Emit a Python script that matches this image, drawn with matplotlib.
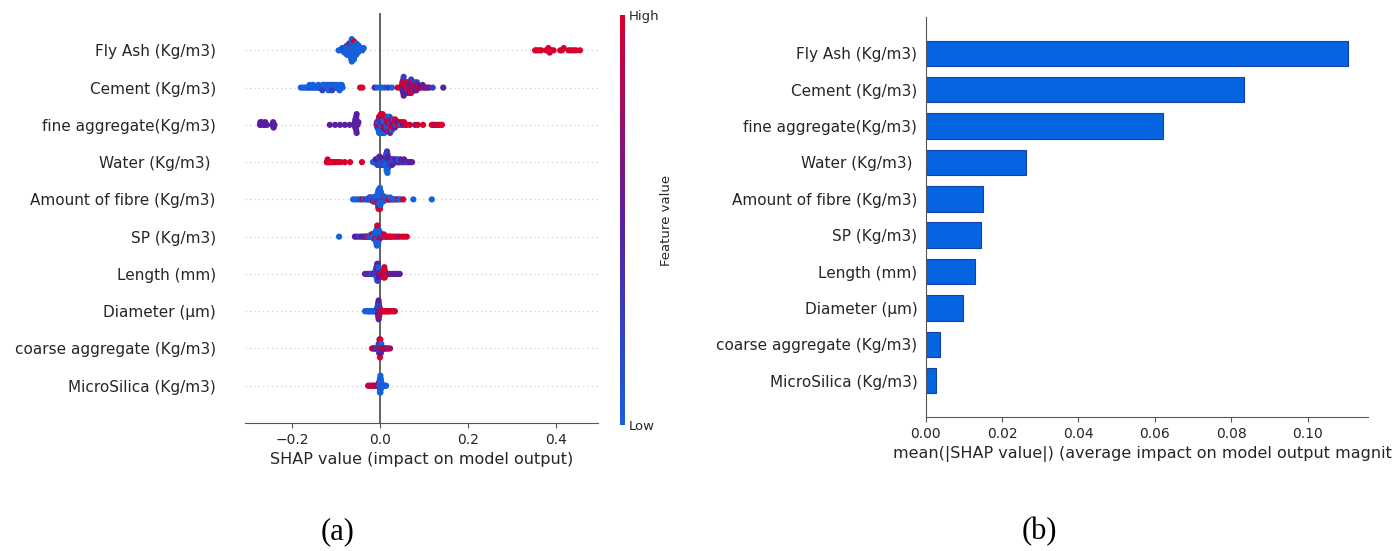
import numpy as np
import matplotlib
matplotlib.use('Agg')
import matplotlib.pyplot as plt
from matplotlib.colors import LinearSegmentedColormap

FEATURES = ['Fly Ash (Kg/m3)', 'Cement (Kg/m3)', 'fine aggregate(Kg/m3)', 'Water (Kg/m3) ',
            'Amount of fibre (Kg/m3)', 'SP (Kg/m3)', 'Length (mm)', 'Diameter (\u00b5m)',
            'coarse aggregate (Kg/m3)', 'MicroSilica (Kg/m3)']

# mean(|SHAP|) per feature, same order as FEATURES
MEAN_ABS_SHAP = [0.1105, 0.0832, 0.0622, 0.0262, 0.0150, 0.0144, 0.0129, 0.0099, 0.0038, 0.0027]

# feature-value level codes -> position on the colour scale
LEVEL_VALUES = [0.0, 0.25, 0.5, 0.75, 1.0]

FLY_ASH_SHAP = [
    -0.094, -0.089, -0.086, -0.084, -0.082, -0.081, -0.079, -0.078, -0.077, -0.076,
    -0.075, -0.074, -0.073, -0.072, -0.072, -0.071, -0.070, -0.069, -0.069, -0.068,
    -0.068, -0.067, -0.066, -0.066, -0.065, -0.065, -0.064, -0.064, -0.063, -0.063,
    -0.062, -0.062, -0.061, -0.061, -0.060, -0.059, -0.059, -0.058, -0.057, -0.056,
    -0.055, -0.054, -0.053, -0.052, -0.051, -0.050, -0.048, -0.046, -0.043, -0.040,
    -0.037, 0.353, 0.357, 0.362, 0.367, 0.378, 0.381, 0.383, 0.386, 0.390,
    0.395, 0.410, 0.414, 0.418, 0.429, 0.434, 0.440, 0.446, 0.455]
FLY_ASH_LVL = [
    0, 0, 0, 0, 1, 0, 0, 0, 0, 0,
    0, 0, 0, 0, 0, 0, 2, 0, 0, 0,
    0, 0, 4, 0, 0, 0, 0, 0, 4, 0,
    0, 0, 0, 0, 0, 4, 0, 0, 0, 0,
    0, 0, 0, 0, 0, 0, 0, 0, 0, 0,
    0, 4, 4, 4, 4, 4, 4, 4, 4, 4,
    4, 4, 4, 4, 4, 4, 4, 4, 4]

CEMENT_SHAP = [
    -0.180, -0.175, -0.170, -0.166, -0.162, -0.158, -0.154, -0.150, -0.147, -0.144,
    -0.141, -0.138, -0.135, -0.133, -0.130, -0.128, -0.127, -0.125, -0.122, -0.120,
    -0.118, -0.116, -0.113, -0.112, -0.110, -0.108, -0.106, -0.104, -0.101, -0.099,
    -0.097, -0.094, -0.091, -0.088, -0.085, -0.045, -0.040, -0.012, -0.006, 0.004,
    0.011, 0.019, 0.027, 0.040, 0.050, 0.050, 0.051, 0.051, 0.052, 0.052,
    0.052, 0.053, 0.053, 0.053, 0.054, 0.054, 0.057, 0.058, 0.059, 0.059,
    0.060, 0.061, 0.061, 0.062, 0.063, 0.063, 0.064, 0.065, 0.065, 0.066,
    0.067, 0.067, 0.068, 0.069, 0.069, 0.070, 0.071, 0.071, 0.072, 0.073,
    0.073, 0.074, 0.075, 0.075, 0.076, 0.077, 0.078, 0.079, 0.080, 0.081,
    0.082, 0.083, 0.084, 0.085, 0.086, 0.088, 0.091, 0.094, 0.097, 0.100,
    0.104, 0.108, 0.112, 0.120, 0.144,
    -0.160, -0.152, -0.140, -0.131, -0.126, -0.121, -0.117, -0.109, -0.103, -0.098,
    -0.092, -0.087]
CEMENT_LVL = [
    0, 0, 0, 0, 0, 1, 0, 0, 0, 0,
    0, 0, 1, 0, 0, 0, 0, 0, 0, 0,
    0, 0, 0, 1, 0, 0, 0, 0, 0, 0,
    0, 0, 0, 0, 0, 4, 4, 2, 0, 0,
    0, 1, 0, 4, 2, 3, 2, 4, 2, 3,
    2, 4, 2, 3, 2, 1, 3, 4, 2, 4,
    3, 4, 2, 4, 3, 1, 4, 4, 2, 3,
    4, 2, 4, 3, 4, 2, 4, 1, 3, 4,
    2, 4, 3, 2, 4, 1, 3, 4, 2, 3,
    4, 2, 1, 3, 2, 4, 2, 3, 2, 3,
    2, 3, 2, 1, 2,
    0, 0, 0, 1, 0, 0, 0, 1, 0, 0,
    0, 0]

FINE_AGG_SHAP = [
    -0.273, -0.272, -0.270, -0.269, -0.264, -0.262, -0.261, -0.257, -0.245, -0.243,
    -0.242, -0.240, -0.114, -0.102, -0.091, -0.080, -0.069, -0.058, -0.057, -0.056,
    -0.056, -0.055, -0.055, -0.055, -0.054, -0.054, -0.054, -0.053, -0.053, -0.051,
    -0.049, -0.008, -0.007, -0.006, -0.005, -0.004, -0.004, -0.003, -0.003, -0.002,
    -0.002, -0.001, -0.001, 0.000, 0.000, 0.001, 0.001, 0.002, 0.002, 0.003,
    0.003, 0.004, 0.004, 0.005, 0.005, 0.006, 0.006, 0.007, 0.007, 0.008,
    0.008, 0.009, 0.010, 0.010, 0.011, 0.012, 0.012, 0.013, 0.014, 0.014,
    0.015, 0.016, 0.016, 0.017, 0.018, 0.018, 0.019, 0.020, 0.020, 0.021,
    0.022, 0.022, 0.023, 0.024, 0.025, 0.026, 0.026, 0.027, 0.028, 0.029,
    0.030, 0.031, 0.032, 0.033, 0.034, 0.035, 0.036, 0.038, 0.040, 0.042,
    0.044, 0.046, 0.048, 0.050, 0.052, 0.055, 0.058, 0.061, 0.068, 0.080,
    0.086, 0.098, 0.118, 0.121, 0.125, 0.129, 0.133, 0.137, 0.141]
FINE_AGG_LVL = [
    2, 2, 2, 2, 2, 2, 2, 2, 2, 2,
    2, 2, 2, 2, 2, 2, 2, 2, 2, 2,
    2, 2, 2, 2, 2, 2, 2, 2, 2, 2,
    2, 4, 2, 0, 4, 0, 3, 2, 0, 4,
    0, 2, 0, 4, 1, 0, 3, 0, 4, 0,
    2, 0, 4, 0, 3, 0, 4, 1, 0, 4,
    0, 2, 4, 0, 3, 0, 4, 0, 2, 4,
    0, 4, 0, 3, 4, 0, 2, 4, 0, 3,
    4, 0, 2, 4, 0, 3, 4, 0, 4, 2,
    4, 0, 3, 4, 2, 4, 0, 3, 4, 2,
    4, 3, 0, 4, 2, 4, 3, 4, 4, 3,
    4, 4, 4, 4, 3, 4, 4, 4, 4]

WATER_SHAP = [
    -0.121, -0.120, -0.119, -0.118, -0.116, -0.114, -0.112, -0.108, -0.104, -0.100,
    -0.095, -0.089, -0.080, -0.068, -0.041, -0.016, -0.013, -0.011, -0.009, -0.008,
    -0.007, -0.006, -0.005, -0.004, -0.003, -0.003, -0.002, -0.001, 0.000, 0.000,
    0.001, 0.002, 0.003, 0.004, 0.005, 0.006, 0.007, 0.008, 0.009, 0.010,
    0.011, 0.012, 0.013, 0.014, 0.014, 0.015, 0.015, 0.015, 0.016, 0.016,
    0.016, 0.016, 0.017, 0.017, 0.017, 0.018, 0.018, 0.019, 0.020, 0.021,
    0.022, 0.023, 0.024, 0.025, 0.026, 0.027, 0.028, 0.029, 0.030, 0.032,
    0.034, 0.036, 0.038, 0.040, 0.042, 0.044, 0.047, 0.050, 0.053, 0.056,
    0.059, 0.062, 0.065, 0.069, 0.073,
    -0.014, -0.010, -0.006, -0.004, -0.002, 0.000, 0.002, 0.004, 0.006, 0.008,
    0.010, 0.012, 0.013, 0.014, 0.015, 0.016, 0.017, 0.018, 0.019, 0.020,
    0.022, 0.024, 0.026, 0.028, 0.031, 0.035, 0.039, 0.043, 0.048, 0.055]
WATER_LVL = [
    4, 4, 4, 4, 4, 4, 4, 4, 4, 4,
    4, 4, 4, 4, 4, 0, 2, 0, 1, 0,
    2, 0, 3, 0, 1, 0, 2, 0, 0, 2,
    0, 1, 0, 2, 0, 0, 2, 0, 1, 0,
    2, 0, 0, 2, 0, 0, 1, 2, 0, 0,
    2, 1, 0, 2, 0, 0, 3, 0, 2, 0,
    1, 2, 0, 2, 0, 3, 0, 2, 0, 2,
    0, 2, 1, 2, 0, 2, 3, 2, 0, 2,
    2, 0, 2, 2, 2,
    0, 2, 0, 1, 0, 2, 0, 0, 2, 0,
    1, 0, 2, 0, 0, 1, 0, 2, 0, 0,
    2, 0, 1, 2, 0, 2, 2, 0, 2, 2]

FIBRE_SHAP = [
    -0.061, -0.055, -0.050, -0.045, -0.041, -0.036, -0.031, -0.028, -0.025, -0.023,
    -0.021, -0.019, -0.017, -0.016, -0.015, -0.014, -0.013, -0.012, -0.011, -0.010,
    -0.009, -0.008, -0.007, -0.006, -0.006, -0.005, -0.005, -0.004, -0.004, -0.003,
    -0.003, -0.003, -0.002, -0.002, -0.002, -0.001, -0.001, -0.001, 0.000, 0.000,
    0.000, 0.001, 0.001, 0.002, 0.002, 0.003, 0.004, 0.005, 0.006, 0.007,
    0.008, 0.009, 0.010, 0.012, 0.014, 0.016, 0.018, 0.021, 0.024, 0.027,
    0.030, 0.033, 0.036, 0.040, 0.044, 0.048, 0.053, 0.076, 0.118,
    -0.024, -0.022, -0.020, -0.018, -0.016, -0.014, -0.012, -0.010, -0.009, -0.008,
    -0.007, -0.006, -0.005, -0.004, -0.003, -0.002, -0.001, 0.000, 0.001, 0.002,
    0.003, 0.004, 0.005, 0.006, 0.008, 0.010, 0.012, 0.015, 0.019, 0.023,
    -0.004, -0.004, -0.003, -0.003, -0.002, -0.002, -0.001, -0.001, 0.000, 0.000,
    0.001, 0.002]
FIBRE_LVL = [
    0, 0, 0, 0, 4, 0, 2, 0, 0, 1,
    0, 0, 4, 0, 0, 1, 0, 4, 0, 0,
    0, 2, 0, 0, 4, 0, 0, 3, 0, 0,
    4, 0, 0, 1, 0, 0, 4, 0, 0, 2,
    0, 0, 4, 0, 0, 0, 4, 0, 1, 0,
    0, 4, 0, 0, 4, 0, 0, 4, 0, 0,
    4, 0, 0, 4, 0, 0, 4, 0, 0,
    0, 4, 0, 0, 2, 0, 4, 0, 0, 1,
    0, 4, 0, 0, 4, 0, 0, 3, 0, 4,
    0, 0, 4, 0, 0, 4, 0, 0, 4, 0,
    0, 1, 0, 4, 0, 0, 2, 0, 4, 0,
    0, 0]

SP_SHAP = [
    -0.093, -0.057, -0.052, -0.047, -0.042, -0.038, -0.035, -0.032, -0.030, -0.029,
    -0.027, -0.025, -0.023, -0.021, -0.019, -0.017, -0.015, -0.014, -0.013, -0.012,
    -0.011, -0.010, -0.010, -0.009, -0.009, -0.008, -0.008, -0.007, -0.007, -0.007,
    -0.006, -0.006, -0.006, -0.005, -0.005, -0.004, -0.004, -0.003, -0.003, -0.002,
    -0.001, 0.000, 0.001, 0.002, 0.004, 0.006, 0.008, 0.010, 0.012, 0.014,
    0.016, 0.020, 0.023, 0.026, 0.030, 0.034, 0.039, 0.044, 0.050, 0.055,
    0.061,
    -0.020, -0.018, -0.016, -0.014, -0.012, -0.011, -0.010, -0.009, -0.008, -0.007,
    -0.006, -0.005, -0.004, -0.003, -0.002, -0.001, 0.000, 0.002, 0.005, 0.009,
    -0.008, -0.007, -0.006, -0.005, -0.004]
SP_LVL = [
    0, 2, 2, 1, 2, 2, 2, 3, 4, 2,
    0, 3, 0, 0, 4, 0, 0, 4, 0, 0,
    4, 0, 0, 4, 0, 0, 3, 0, 0, 4,
    0, 0, 4, 0, 1, 0, 4, 0, 0, 4,
    0, 0, 4, 0, 0, 4, 0, 4, 0, 0,
    4, 4, 4, 4, 4, 4, 4, 3, 4, 4,
    4,
    0, 4, 0, 0, 1, 0, 4, 0, 0, 4,
    0, 0, 4, 0, 0, 3, 0, 4, 0, 4,
    0, 0, 4, 0, 0]

LENGTH_SHAP = [
    -0.034, -0.031, -0.028, -0.025, -0.023, -0.021, -0.019, -0.017, -0.016, -0.014,
    -0.013, -0.012, -0.011, -0.010, -0.010, -0.009, -0.009, -0.008, -0.008, -0.008,
    -0.007, -0.007, -0.007, -0.006, -0.006, -0.006, -0.006, -0.005, -0.005, -0.005,
    -0.005, -0.004, -0.004, -0.004, -0.003, -0.003, -0.002, -0.001, 0.001, 0.003,
    0.005, 0.006, 0.007, 0.008, 0.008, 0.009, 0.009, 0.010, 0.010, 0.010,
    0.011, 0.011, 0.012, 0.013, 0.014, 0.016, 0.018, 0.021, 0.025, 0.029,
    0.033, 0.038, 0.042, 0.045,
    -0.008, -0.007, -0.006, -0.006, -0.005, -0.005, -0.004, -0.003, 0.008, 0.009,
    0.010, 0.011]
LENGTH_LVL = [
    2, 2, 1, 2, 1, 2, 0, 2, 1, 2,
    2, 1, 0, 2, 1, 2, 0, 1, 2, 0,
    1, 2, 0, 2, 1, 0, 2, 1, 2, 0,
    2, 1, 2, 0, 2, 1, 2, 3, 4, 4,
    4, 4, 3, 4, 4, 3, 4, 4, 3, 4,
    4, 4, 3, 4, 4, 3, 4, 2, 3, 2,
    2, 2, 2, 2,
    1, 2, 0, 2, 1, 2, 0, 2, 4, 3,
    4, 4]

DIAMETER_SHAP = [
    -0.034, -0.031, -0.028, -0.026, -0.024, -0.022, -0.020, -0.018, -0.016, -0.014,
    -0.012, -0.010, -0.009, -0.008, -0.007, -0.007, -0.006, -0.006, -0.005, -0.005,
    -0.005, -0.004, -0.004, -0.004, -0.004, -0.004, -0.003, -0.003, -0.003, -0.003,
    -0.003, -0.003, -0.003, -0.002, -0.002, -0.002, -0.002, -0.001, -0.001, -0.001,
    0.000, 0.000, 0.001, 0.002, 0.003, 0.005, 0.007, 0.009, 0.011, 0.013,
    0.015, 0.017, 0.019, 0.021, 0.023, 0.026, 0.029, 0.032, 0.034,
    -0.003, -0.004, -0.002, -0.005, -0.025, -0.017, 0.012, 0.016, 0.022]
DIAMETER_LVL = [
    0, 0, 0, 1, 0, 0, 1, 0, 0, 1,
    1, 0, 2, 1, 2, 0, 2, 1, 2, 2,
    1, 2, 2, 3, 2, 1, 2, 2, 3, 2,
    2, 3, 2, 2, 1, 2, 2, 3, 2, 2,
    2, 4, 2, 4, 3, 4, 4, 3, 4, 4,
    4, 3, 4, 4, 3, 4, 4, 3, 4,
    2, 2, 3, 1, 0, 0, 4, 4, 4]

COARSE_SHAP = [
    -0.018, -0.015, -0.012, -0.010, -0.008, -0.006, -0.005, -0.004, -0.003, -0.003,
    -0.002, -0.002, -0.002, -0.001, -0.001, -0.001, -0.001, 0.000, 0.000, 0.000,
    0.000, 0.000, 0.001, 0.001, 0.001, 0.001, 0.002, 0.002, 0.002, 0.003,
    0.003, 0.004, 0.005, 0.006, 0.007, 0.009, 0.011, 0.013, 0.016, 0.019,
    0.023]
COARSE_LVL = [
    4, 3, 2, 4, 2, 0, 3, 2, 0, 4,
    2, 0, 3, 4, 2, 0, 3, 2, 4, 0,
    2, 4, 3, 0, 2, 4, 0, 3, 2, 4,
    0, 3, 2, 4, 3, 2, 4, 3, 2, 4,
    3]

MICROSILICA_SHAP = [
    -0.027, -0.024, -0.021, -0.018, -0.015, -0.013, -0.011, -0.009, -0.007, -0.006,
    -0.004, -0.003, -0.002, -0.002, -0.001, -0.001, 0.000, 0.000, 0.000, 0.000,
    0.000, 0.001, 0.001, 0.001, 0.001, 0.001, 0.001, 0.002, 0.002, 0.002,
    0.002, 0.003, 0.003, 0.004, 0.005, 0.006, 0.008, 0.010, 0.012, 0.014]
MICROSILICA_LVL = [
    4, 4, 3, 4, 4, 3, 4, 2, 4, 3,
    2, 4, 1, 3, 0, 2, 0, 0, 2, 0,
    0, 0, 0, 0, 1, 0, 0, 0, 0, 0,
    0, 1, 0, 0, 0, 0, 0, 0, 0, 0]

SWARM_SHAP = [FLY_ASH_SHAP, CEMENT_SHAP, FINE_AGG_SHAP, WATER_SHAP, FIBRE_SHAP,
              SP_SHAP, LENGTH_SHAP, DIAMETER_SHAP, COARSE_SHAP, MICROSILICA_SHAP]
SWARM_LVL = [FLY_ASH_LVL, CEMENT_LVL, FINE_AGG_LVL, WATER_LVL, FIBRE_LVL,
             SP_LVL, LENGTH_LVL, DIAMETER_LVL, COARSE_LVL, MICROSILICA_LVL]

TXT = '#262626'
cmap = LinearSegmentedColormap.from_list('low_high', ['#1560dc', '#5a1fa0', '#d8002c'])


def swarm_offsets(vals, nbins=100, row_height=0.4):
    """Beeswarm jitter: stack points that fall into the same value bin."""
    vals = np.asarray(vals, dtype=float)
    quant = np.round(nbins * (vals - vals.min()) / (vals.max() - vals.min() + 1e-8))
    ys = np.zeros(len(vals))
    layer, last = 0, None
    for i in np.argsort(quant, kind='stable'):
        if quant[i] != last:
            layer = 0
        ys[i] = np.ceil(layer / 2) * ((layer % 2) * 2 - 1)
        layer += 1
        last = quant[i]
    return ys * 0.9 * (row_height / np.max(ys + 1))


fig = plt.figure(figsize=(13.92, 5.51), dpi=100)
n = len(FEATURES)
pos = np.arange(n)[::-1]

# ---- (a) beeswarm ----
ax = fig.add_axes([0.176, 0.2323, 0.2536, 0.744])
ax.axvline(0, color='#555555', lw=1.3, zorder=1)
for p, shap, lvl in zip(pos, SWARM_SHAP, SWARM_LVL):
    assert len(shap) == len(lvl)
    ax.axhline(p, color='#c8c8c8', lw=0.8, dashes=(1, 3), zorder=0)
    c = np.array(LEVEL_VALUES)[np.array(lvl)]
    ax.scatter(shap, p + swarm_offsets(shap), c=c, cmap=cmap, vmin=0, vmax=1,
               s=20, linewidth=0, zorder=3)
ax.set_ylim(-1, n)
ax.set_xlim(-0.307, 0.496)
ax.set_xticks([-0.2, 0.0, 0.2, 0.4])
ax.set_yticks(pos)
ax.set_yticklabels(FEATURES, fontsize=11, color=TXT)
ax.tick_params('y', length=0, pad=21)
ax.tick_params('x', labelsize=10, colors=TXT, color='#555555')
for s in ['left', 'right', 'top']:
    ax.spines[s].set_visible(False)
ax.spines['bottom'].set_color('#555555')
ax.set_xlabel('SHAP value (impact on model output)', fontsize=11.5, color=TXT)

cax = fig.add_axes([0.4454, 0.2287, 0.0036, 0.744])
sm = plt.cm.ScalarMappable(cmap=cmap)
sm.set_array([0, 1])
cb = fig.colorbar(sm, cax=cax, ticks=[0, 1])
cb.set_ticklabels(['Low', 'High'])
cb.ax.tick_params(labelsize=9.5, length=0, pad=3, labelcolor=TXT)
cb.set_label('Feature value', size=9.5, labelpad=0, color=TXT)
cb.outline.set_visible(False)

# ---- (b) mean |SHAP| bars ----
axb = fig.add_axes([0.665, 0.2432, 0.3178, 0.726])
axb.barh(pos, MEAN_ABS_SHAP, 0.7, color='#0564e0', edgecolor='#1440a8', lw=0.8)
axb.set_ylim(-1, n)
axb.set_xlim(0, 0.1158)
axb.set_xticks([0.0, 0.02, 0.04, 0.06, 0.08, 0.10])
axb.set_yticks(pos)
axb.set_yticklabels(FEATURES, fontsize=11, color=TXT)
axb.tick_params('y', length=0, pad=6)
axb.tick_params('x', labelsize=10, colors=TXT, color='#555555')
for s in ['right', 'top']:
    axb.spines[s].set_visible(False)
axb.spines['left'].set_color('#555555')
axb.spines['bottom'].set_color('#555555')
axb.set_xlabel('mean(|SHAP value|) (average impact on model output magnitude)',
               fontsize=11.5, color=TXT)
axb.xaxis.label.set_x(0.532)

fig.text(0.2425, 0.035, '(a)', family='Liberation Serif', fontsize=22, ha='center', va='center')
fig.text(0.747, 0.035, '(b)', family='Liberation Serif', fontsize=22, ha='center', va='center')

fig.savefig('out.png', dpi=100)
